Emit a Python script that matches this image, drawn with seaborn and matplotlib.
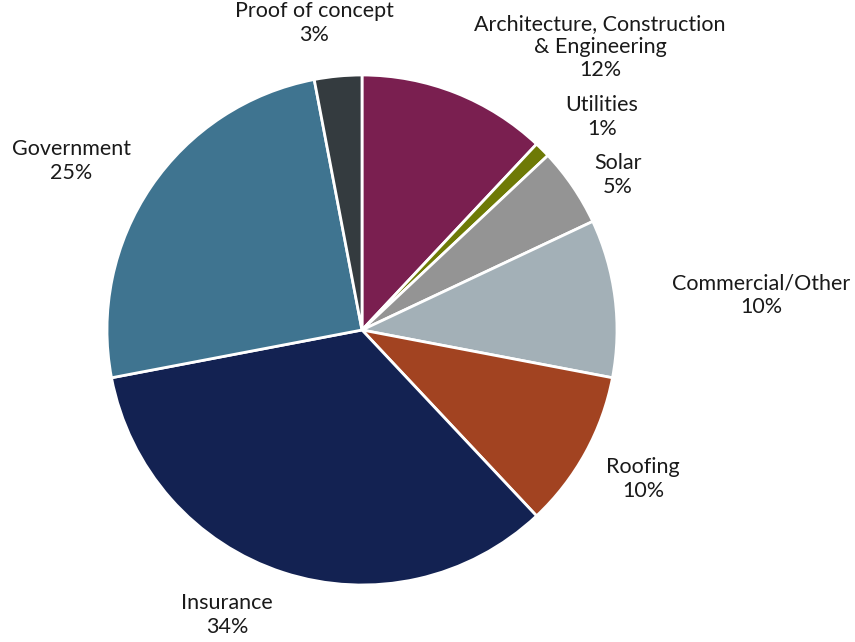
import matplotlib
matplotlib.use("Agg")
import matplotlib.pyplot as plt
import seaborn as sns

# data (clockwise from 12 o'clock)
categories = ["Architecture, Construction\n& Engineering", "Utilities", "Solar",
              "Commercial/Other", "Roofing", "Insurance", "Government", "Proof of concept"]
shares = [12, 1, 5, 10, 10, 34, 25, 3]
colors = ["#7a1f50", "#6e7a06", "#949494", "#a3b0b7", "#a24321",
          "#132252", "#3f7490", "#343b3f"]

# label centres in pie units (radius = 1)
label_pos = [(0.933, 1.110), (0.941, 0.835), (1.004, 0.608), (1.565, 0.137),
             (1.102, -0.584), (-0.529, -1.118), (-1.141, 0.663), (-0.188, 1.204)]

sns.set_theme(style="white")
plt.rcParams["font.family"] = ["Lato", "DejaVu Sans"]

fig = plt.figure(figsize=(8.55, 6.42), dpi=100)
ax = fig.add_axes([0, 0, 1, 1])

ax.pie(shares, colors=colors, startangle=90, counterclock=False, radius=1,
       wedgeprops=dict(edgecolor="white", linewidth=2))

for name, val, (x, y) in zip(categories, shares, label_pos):
    ax.text(x, y, f"{name}\n{val}%", ha="center", va="center", fontsize=15.5,
            color="#1a1a1a", linespacing=1.2, multialignment="center")

ax.set_xlim(-362 / 255, 493 / 255)
ax.set_ylim(-312 / 255, 330 / 255)
ax.set_aspect("equal")
ax.axis("off")

fig.savefig("out.png", dpi=100, facecolor="white")
